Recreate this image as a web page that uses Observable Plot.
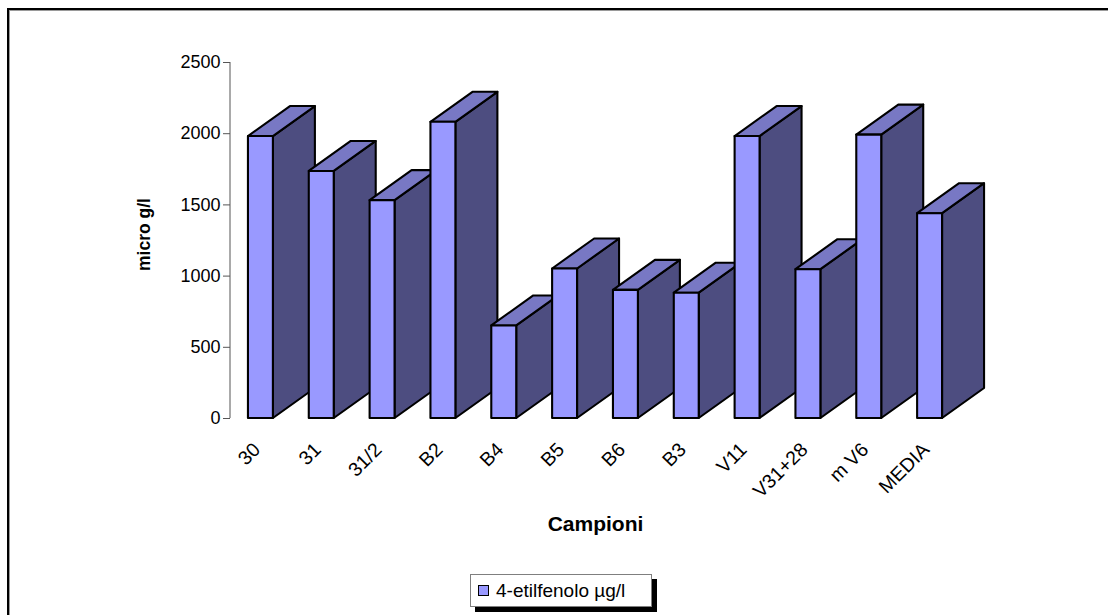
<!DOCTYPE html>
<html>
<head>
<meta charset="utf-8">
<script src="https://cdn.jsdelivr.net/npm/d3@7"></script>
<script src="https://cdn.jsdelivr.net/npm/@observablehq/plot@0.6"></script>
<style>
  html, body { margin: 0; background: #fff; }
  body { font-family: "Liberation Sans", Arial, sans-serif; width: 1108px; height: 615px; overflow: hidden; position: relative; }
  #frame { position: absolute; left: 7px; top: 8px; width: 1110px; height: 620px;
           border-left: 2px solid #000; border-top: 2px solid #000;
           box-shadow: inset 1px 1px 0 #9a9a9a; pointer-events: none; }
  #chart svg { display: block; }
  #legend { position: absolute; left: 470px; top: 574px; height: 33px; width: 182px; box-sizing: border-box;
            padding: 0 0 0 7px; border: 1px solid #7f7f7f; background: #fff;
            box-shadow: 5px 5px 0 #000; display: flex; align-items: center; gap: 7px;
            font-size: 19px; color: #000; white-space: nowrap; }
  #legend .swatch { width: 9px; height: 9px; background: #9999FF; border: 1.5px solid #000; }
</style>
</head>
<body>
<div id="chart"></div>
<div id="legend"><span class="swatch"></span><span id="legend-label"></span></div>
<div id="frame"></div>
<script>
// Samples and their 4-ethylphenol concentration
const categories = ["30", "31", "31/2", "B2", "B4", "B5", "B6", "B3", "V11", "V31+28", "m V6", "MEDIA"];
const values = [1980, 1735, 1530, 2080, 650, 1050, 900, 880, 1980, 1045, 1990, 1438];
const yTicks = [0, 500, 1000, 1500, 2000, 2500];
const seriesName = "4-etilfenolo µg/l";
const xTitle = "Campioni";
const yTitle = "micro g/l";

const data = categories.map((c, i) => ({campione: c, valore: values[i]}));

// Oblique offset of the back face, and face shading
const depth = {dx: 42, dy: -30};
const shade = {front: "#9999FF", top: "#7878C4", side: "#4D4D80"};

// Draws each bar as a block (side, top, front), left to right so nearer blocks overlap
function bars3d(index, scales, channels, dimensions) {
  const {x, y} = scales;
  const bw = typeof x.bandwidth === "function" ? x.bandwidth() : x.bandwidth;
  const g = d3.create("svg:g");
  // value axis line
  g.append("line")
    .attr("x1", dimensions.marginLeft).attr("x2", dimensions.marginLeft)
    .attr("y1", y(yTicks[0])).attr("y2", y(yTicks[yTicks.length - 1]))
    .attr("stroke", "#555").attr("stroke-width", 1);
  const bars = g.append("g")
    .attr("stroke", "#000").attr("stroke-width", 2.1).attr("stroke-linejoin", "round");
  const {dx, dy} = depth;
  for (const d of data) {
    const x0 = x(d.campione), x1 = x0 + bw;
    const y0 = y(0), y1 = y(d.valore);
    bars.append("path").attr("fill", shade.side)
      .attr("d", `M${x1},${y0}L${x1 + dx},${y0 + dy}L${x1 + dx},${y1 + dy}L${x1},${y1}Z`);
    bars.append("path").attr("fill", shade.top)
      .attr("d", `M${x0},${y1}L${x0 + dx},${y1 + dy}L${x1 + dx},${y1 + dy}L${x1},${y1}Z`);
    bars.append("rect").attr("fill", shade.front)
      .attr("x", x0).attr("y", y1).attr("width", bw).attr("height", y0 - y1);
  }
  return g.node();
}

const chart = Plot.plot({
  width: 1108,
  height: 568,
  marginLeft: 230,
  marginRight: 148,
  marginTop: 62,
  marginBottom: 150,
  style: {fontFamily: "'Liberation Sans', Arial, sans-serif", fontSize: "18px", color: "#000", background: "#fff"},
  x: {type: "band", domain: categories, paddingInner: 0.59, paddingOuter: 0.295, round: false, axis: null},
  y: {domain: [0, 2500], axis: null},
  marks: [
    Plot.axisY({ticks: yTicks, tickFormat: d => String(d), tickSize: 7, tickPadding: 3, label: null, fontSize: 18, stroke: "#555"}),
    bars3d,
    Plot.text(data, {
      x: "campione", y: 0, text: "campione",
      rotate: -45, textAnchor: "end", lineAnchor: "middle",
      dx: -4, dy: 28, fontSize: 19.5
    }),
    Plot.text([xTitle], {
      text: d => d, frameAnchor: "bottom", lineAnchor: "middle",
      dy: 106, fontWeight: "bold", fontSize: 21
    }),
    Plot.text([yTitle], {
      text: d => d, frameAnchor: "left", textAnchor: "middle", lineAnchor: "middle",
      dx: -86, dy: -6, rotate: -90, fontWeight: "bold", fontSize: 17.5
    })
  ]
});
document.getElementById("chart").append(chart);
document.getElementById("legend-label").textContent = seriesName;
</script>
</body>
</html>
